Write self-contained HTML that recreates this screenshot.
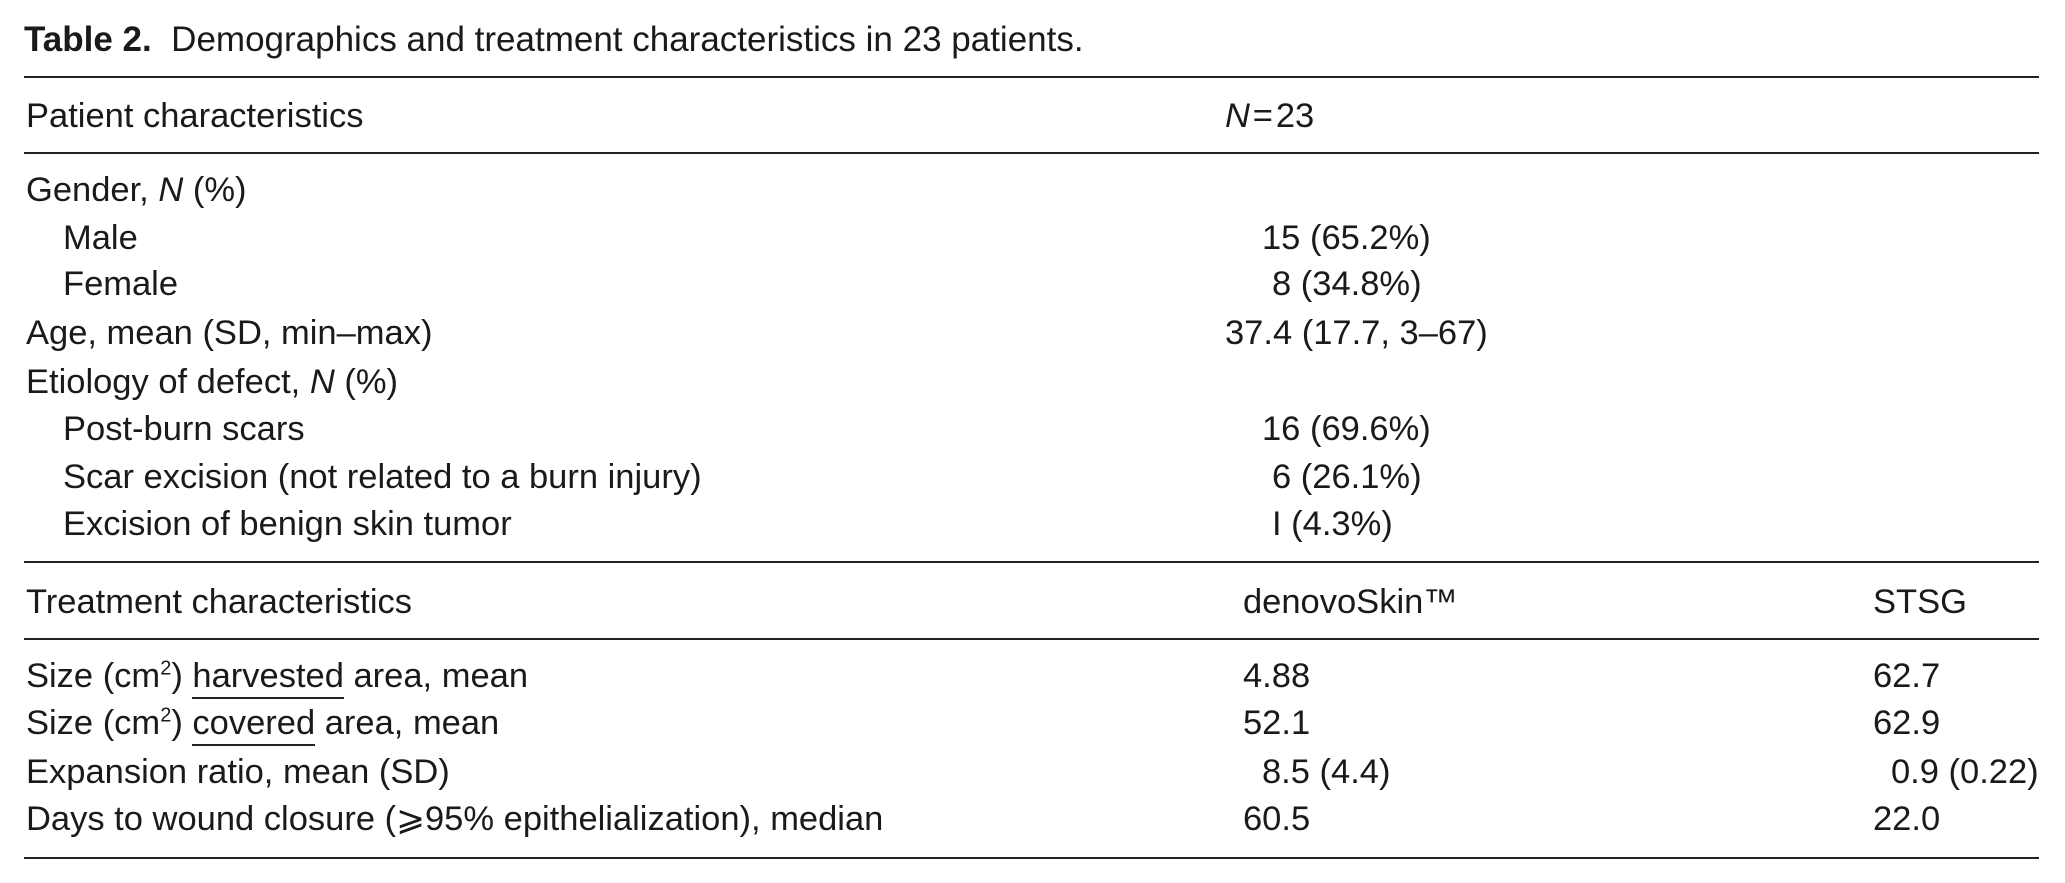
<!DOCTYPE html>
<html><head><meta charset="utf-8"><style>
html,body{margin:0;padding:0;background:#fff;}
body{width:2065px;height:883px;position:relative;overflow:hidden;font-family:"Liberation Sans",sans-serif;color:#1a1a1a;font-size:34.5px;}
.t{position:absolute;line-height:40px;white-space:nowrap;}
.r{position:absolute;left:24px;width:2015px;background:#222;height:2px;}
u{text-decoration:none;border-bottom:2px solid #222;padding-bottom:2px;}
sup{font-size:20px;line-height:0;}
</style></head><body>
<div class="t" style="left:24px;top:20px;font-size:35px"><b>Table 2.</b>&nbsp; Demographics and treatment characteristics in 23 patients.</div>
<div class="r" style="top:76px"></div>
<div class="t" style="left:26px;top:96px">Patient characteristics</div>
<div class="t" style="left:1225px;top:96px"><i>N</i>&#8202;=&#8202;23</div>
<div class="r" style="top:152px"></div>
<div class="t" style="left:26px;top:170px">Gender, <i>N</i> (%)</div>
<div class="t" style="left:63px;top:218px">Male</div>
<div class="t" style="left:1262px;top:218px">15 (65.2%)</div>
<div class="t" style="left:63px;top:264px">Female</div>
<div class="t" style="left:1272px;top:264px">8 (34.8%)</div>
<div class="t" style="left:26px;top:313px">Age, mean (SD, min–max)</div>
<div class="t" style="left:1225px;top:313px">37.4 (17.7, 3–67)</div>
<div class="t" style="left:26px;top:362px">Etiology of defect, <i>N</i> (%)</div>
<div class="t" style="left:63px;top:409px">Post-burn scars</div>
<div class="t" style="left:1262px;top:409px">16 (69.6%)</div>
<div class="t" style="left:63px;top:457px">Scar excision (not related to a burn injury)</div>
<div class="t" style="left:1272px;top:457px">6 (26.1%)</div>
<div class="t" style="left:63px;top:504px">Excision of benign skin tumor</div>
<div class="t" style="left:1272px;top:504px">I (4.3%)</div>
<div class="r" style="top:561px"></div>
<div class="t" style="left:26px;top:582px">Treatment characteristics</div>
<div class="t" style="left:1243px;top:582px">denovoSkin™</div>
<div class="t" style="left:1873px;top:582px">STSG</div>
<div class="r" style="top:638px"></div>
<div class="t" style="left:26px;top:656px">Size (cm<sup>2</sup>) <u>harvested</u> area, mean</div>
<div class="t" style="left:1243px;top:656px">4.88</div>
<div class="t" style="left:1873px;top:656px">62.7</div>
<div class="t" style="left:26px;top:703px">Size (cm<sup>2</sup>) <u>covered</u> area, mean</div>
<div class="t" style="left:1243px;top:703px">52.1</div>
<div class="t" style="left:1873px;top:703px">62.9</div>
<div class="t" style="left:26px;top:752px">Expansion ratio, mean (SD)</div>
<div class="t" style="left:1262px;top:752px">8.5 (4.4)</div>
<div class="t" style="left:1891px;top:752px">0.9 (0.22)</div>
<div class="t" style="left:26px;top:799px">Days to wound closure (⩾95% epithelialization), median</div>
<div class="t" style="left:1243px;top:799px">60.5</div>
<div class="t" style="left:1873px;top:799px">22.0</div>
<div class="r" style="top:857px"></div>
</body></html>
